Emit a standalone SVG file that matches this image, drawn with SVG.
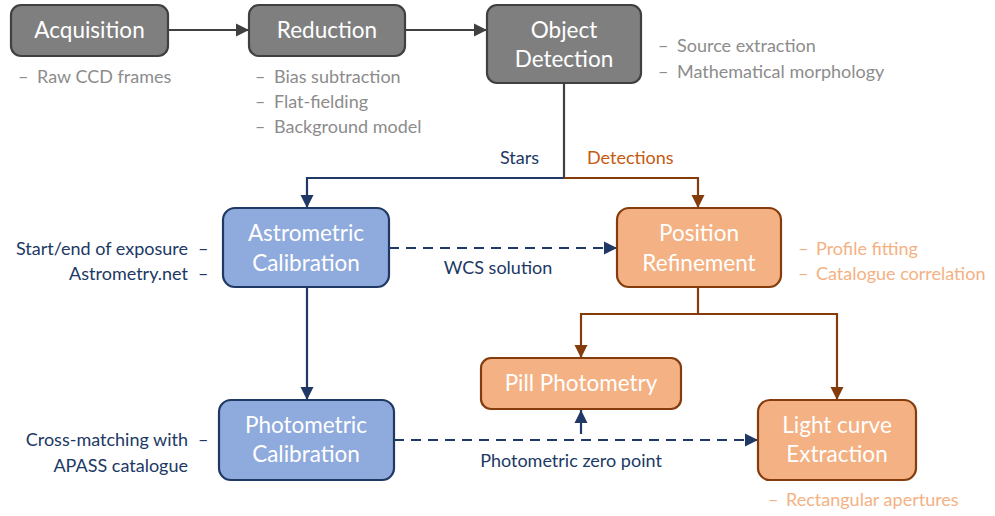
<svg xmlns="http://www.w3.org/2000/svg" width="995" height="516" viewBox="0 0 995 516">
<style>
text{font-family:Lato,"Open Sans","Liberation Sans",sans-serif}
.gb{fill:#7f7f7f;stroke:#404040;stroke-width:2.2}
.bb{fill:#8faadc;stroke:#203864;stroke-width:2.2}
.ob{fill:#f4b183;stroke:#843c0c;stroke-width:2.2}
.bt{fill:#fff;font-size:22.5px;text-anchor:middle}
.ga{fill:#8c8c8c;font-size:18px}
.na{fill:#203864;font-size:18px}
.oa{fill:#f4b183;font-size:18px}
.e{text-anchor:end}
.c{fill:none;stroke-width:2.2}
.gc{stroke:#404040}
.nc{stroke:#203864}
.oc{stroke:#843c0c}
.d{stroke-dasharray:10 7}
</style>
<defs>
<marker id="ag" viewBox="0 0 10 10" refX="10" refY="5" markerWidth="6" markerHeight="6" orient="auto" markerUnits="strokeWidth"><path d="M0,0L10,5L0,10z" fill="#404040"/></marker>
<marker id="an" viewBox="0 0 10 10" refX="10" refY="5" markerWidth="6" markerHeight="6" orient="auto" markerUnits="strokeWidth"><path d="M0,0L10,5L0,10z" fill="#203864"/></marker>
<marker id="ao" viewBox="0 0 10 10" refX="10" refY="5" markerWidth="6" markerHeight="6" orient="auto" markerUnits="strokeWidth"><path d="M0,0L10,5L0,10z" fill="#843c0c"/></marker>
</defs>
<g id="connectors">
<path class="c gc" d="M168,30H249" marker-end="url(#ag)"/>
<path class="c gc" d="M405,30H487" marker-end="url(#ag)"/>
<path class="c gc" d="M564,83V178"/>
<path class="c nc" d="M564,178H307V208" marker-end="url(#an)"/>
<path class="c oc" d="M564,178H698V208" marker-end="url(#ao)"/>
<path class="c nc d" d="M389,248H617" marker-end="url(#an)"/>
<path class="c nc" d="M307,287V400" marker-end="url(#an)"/>
<path class="c oc" d="M698,287V314H581V358" marker-end="url(#ao)"/>
<path class="c oc" d="M698,314H837V400" marker-end="url(#ao)"/>
<path class="c nc d" d="M394,440H758" marker-end="url(#an)"/>
<path class="c nc" d="M581,434V410" marker-end="url(#an)"/>
<text x="539" y="164" class="na e">Stars</text>
<text x="587" y="164" fill="#c55a11" font-size="18">Detections</text>
<text x="498" y="274" class="na" text-anchor="middle">WCS solution</text>
<text x="571" y="467" class="na" text-anchor="middle">Photometric zero point</text>
</g>
<g id="acquisition">
<rect class="gb" x="11" y="5" width="157" height="51" rx="10"/>
<text class="bt" x="89.500" y="38">Acquisition</text>
<text class="ga" x="18" y="83">–</text><text class="ga" x="37" y="83">Raw CCD frames</text>
</g>
<g id="reduction">
<rect class="gb" x="249" y="5" width="156" height="51" rx="10"/>
<text class="bt" x="327" y="38">Reduction</text>
<text class="ga" x="255" y="83">–</text><text class="ga" x="274" y="83">Bias subtraction</text>
<text class="ga" x="255" y="108">–</text><text class="ga" x="274" y="108">Flat-fielding</text>
<text class="ga" x="255" y="133">–</text><text class="ga" x="274" y="133">Background model</text>
</g>
<g id="object-detection">
<rect class="gb" x="487" y="5" width="154" height="78" rx="10"/>
<text class="bt" x="564" y="38">Object</text>
<text class="bt" x="564" y="67">Detection</text>
<text class="ga" x="658" y="52">–</text><text class="ga" x="677" y="52">Source extraction</text>
<text class="ga" x="658" y="78">–</text><text class="ga" x="677" y="78">Mathematical morphology</text>
</g>
<g id="astrometric">
<rect class="bb" x="223" y="208" width="166" height="79" rx="12"/>
<text class="bt" x="306" y="241">Astrometric</text>
<text class="bt" x="306" y="271">Calibration</text>
<text class="na e" x="188" y="255">Start/end of exposure</text><text class="na" x="198" y="255">–</text>
<text class="na e" x="188" y="280">Astrometry.net</text><text class="na" x="198" y="280">–</text>
</g>
<g id="position">
<rect class="ob" x="617" y="208" width="164" height="79" rx="12"/>
<text class="bt" x="699" y="241">Position</text>
<text class="bt" x="699" y="271">Refinement</text>
<text class="oa" x="798" y="255">–</text><text class="oa" x="816" y="255">Profile fitting</text>
<text class="oa" x="798" y="280">–</text><text class="oa" x="816" y="280">Catalogue correlation</text>
</g>
<g id="photometric">
<rect class="bb" x="219" y="400" width="175" height="80" rx="12"/>
<text class="bt" x="306" y="433">Photometric</text>
<text class="bt" x="306" y="462">Calibration</text>
<text class="na e" x="188" y="446">Cross-matching with</text><text class="na" x="198" y="446">–</text>
<text class="na e" x="188" y="472">APASS catalogue</text>
</g>
<g id="pill">
<rect class="ob" x="481" y="358" width="200" height="51" rx="10"/>
<text class="bt" x="581" y="391">Pill Photometry</text>
</g>
<g id="lightcurve">
<rect class="ob" x="758" y="400" width="158" height="80" rx="12"/>
<text class="bt" x="837" y="433">Light curve</text>
<text class="bt" x="837" y="462">Extraction</text>
<text class="oa" x="768" y="506">–</text><text class="oa" x="786" y="506">Rectangular apertures</text>
</g>
</svg>
